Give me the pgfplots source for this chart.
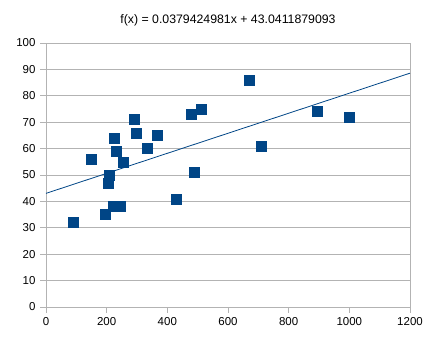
\documentclass[border=0pt]{standalone}
\usepackage{fontspec}
\setmainfont{Liberation Sans}
\usepackage{pgfplots}
\pgfplotsset{compat=1.18}
\definecolor{lblue}{HTML}{004586}
\definecolor{lgray}{HTML}{B3B3B3}
\begin{document}
\begin{tikzpicture}
\path[use as bounding box] (-46pt,-44pt) rectangle (389pt,307pt);
\begin{axis}[
  at={(0pt,0pt)}, anchor=south west,
  scale only axis, width=364pt, height=264pt,
  xmin=0, xmax=1200, ymin=0, ymax=100,
  xtick={0,200,...,1200}, ytick={0,10,...,100},
  ymajorgrids, grid style={lgray, line width=0.8pt},
  axis line style={lgray, line width=0.8pt},
  tick style={lgray, line width=0.8pt},
  major tick length=6pt, tick align=outside,
  xtick pos=bottom, ytick pos=left,
  /pgf/number format/assume math mode=true,
  /pgf/number format/1000 sep={},
  ticklabel style={font=\fontsize{11.5}{13}\selectfont, text=black},
  yticklabel style={xshift=-1pt},
  xticklabel style={yshift=-1pt},
  title={f(x) = 0.0379424981x + 43.0411879093},
  title style={font=\fontsize{12.3}{14}\selectfont, at={(0.5,1)}, anchor=south, yshift=7pt},
  clip=false,
]
\addplot[lblue, line width=0.8pt] coordinates {(0,43.0411879093) (1200,88.5721856293)};
\addplot[only marks, mark=square*, mark size=5pt, mark options={fill=lblue, draw=lblue}] coordinates {
(90,32) (150,56) (195,35) (205,47) (208,50) (222,38) (245,38) (225,64) (230,59) (255,55)
(292,71) (298,66) (332,60) (365,65) (428,41) (480,73) (513,75) (490,51)
(670,86) (708,61) (895,74) (1000,72)
};
\end{axis}
\end{tikzpicture}
\end{document}
